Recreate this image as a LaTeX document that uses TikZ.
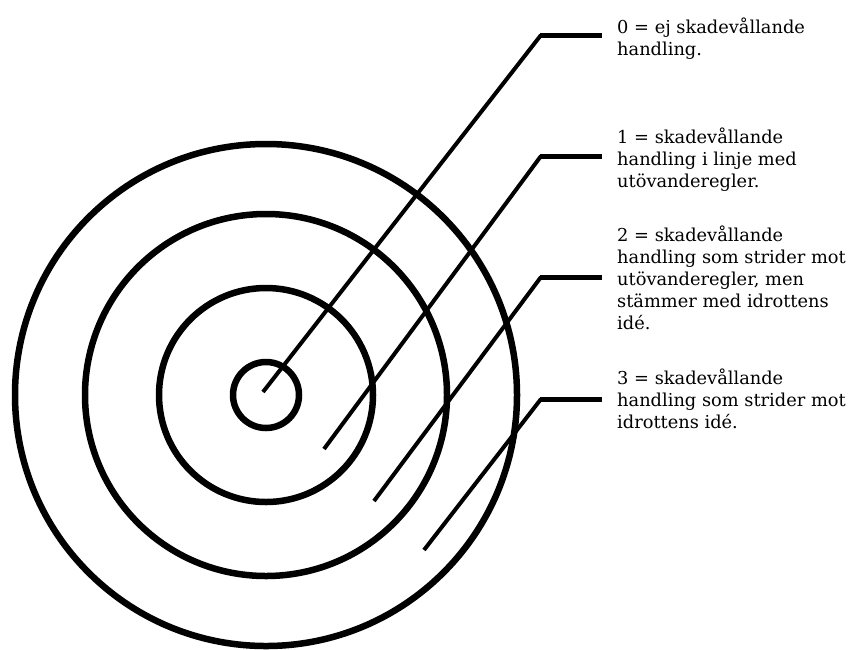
\documentclass[tikz,border=0pt]{standalone}
\usepackage{fontspec}
\setmainfont{DejaVu Serif}
\usepackage{tikz}
\usetikzlibrary{calc}
\tikzset{
  tg ring/.style={
    draw=black,
    line width=6.5pt,
  },
  tg leader/.style={line width=4pt, line cap=butt},
  tg shelf/.style={line width=5pt},
  tg label/.style={
    anchor=north west,
    align=left,
    inner sep=0pt,
    font=\fontsize{17.8}{22}\selectfont,
  },
}

\begin{document}
\begin{tikzpicture}[x=1pt,y=-1pt]
  \useasboundingbox (0,0) rectangle (850,649);
  \coordinate (centre) at (266,395);
  \foreach \r in {33,107,181,251}
    \draw[tg ring] (centre) circle[radius=\r];
  \node[tg label] (lab0) at (617,18) {0 = ej skadevållande\\handling.};
  \node[tg label] (lab1) at (617,128) {1 = skadevållande\\handling i linje med\\utövanderegler.};
  \node[tg label] (lab2) at (617,226) {2 = skadevållande\\handling som strider mot\\utövanderegler, men\\stämmer med idrottens\\idé.};
  \node[tg label] (lab3) at (617,369) {3 = skadevållande\\handling som strider mot\\idrottens idé.};
  \foreach \i/\tx/\ty/\by in {0/263/392/35, 1/324/449/156, 2/374/501/277, 3/424/550/399} {
    \coordinate (tip\i) at (\tx,\ty);
    \coordinate (bend\i) at (540,\by);
    \coordinate (end\i) at (602,\by);
    \draw[tg leader] (tip\i) -- ([xshift=1pt]bend\i);
    \draw[tg shelf] (bend\i) -- (end\i);
  }
\end{tikzpicture}
\end{document}
